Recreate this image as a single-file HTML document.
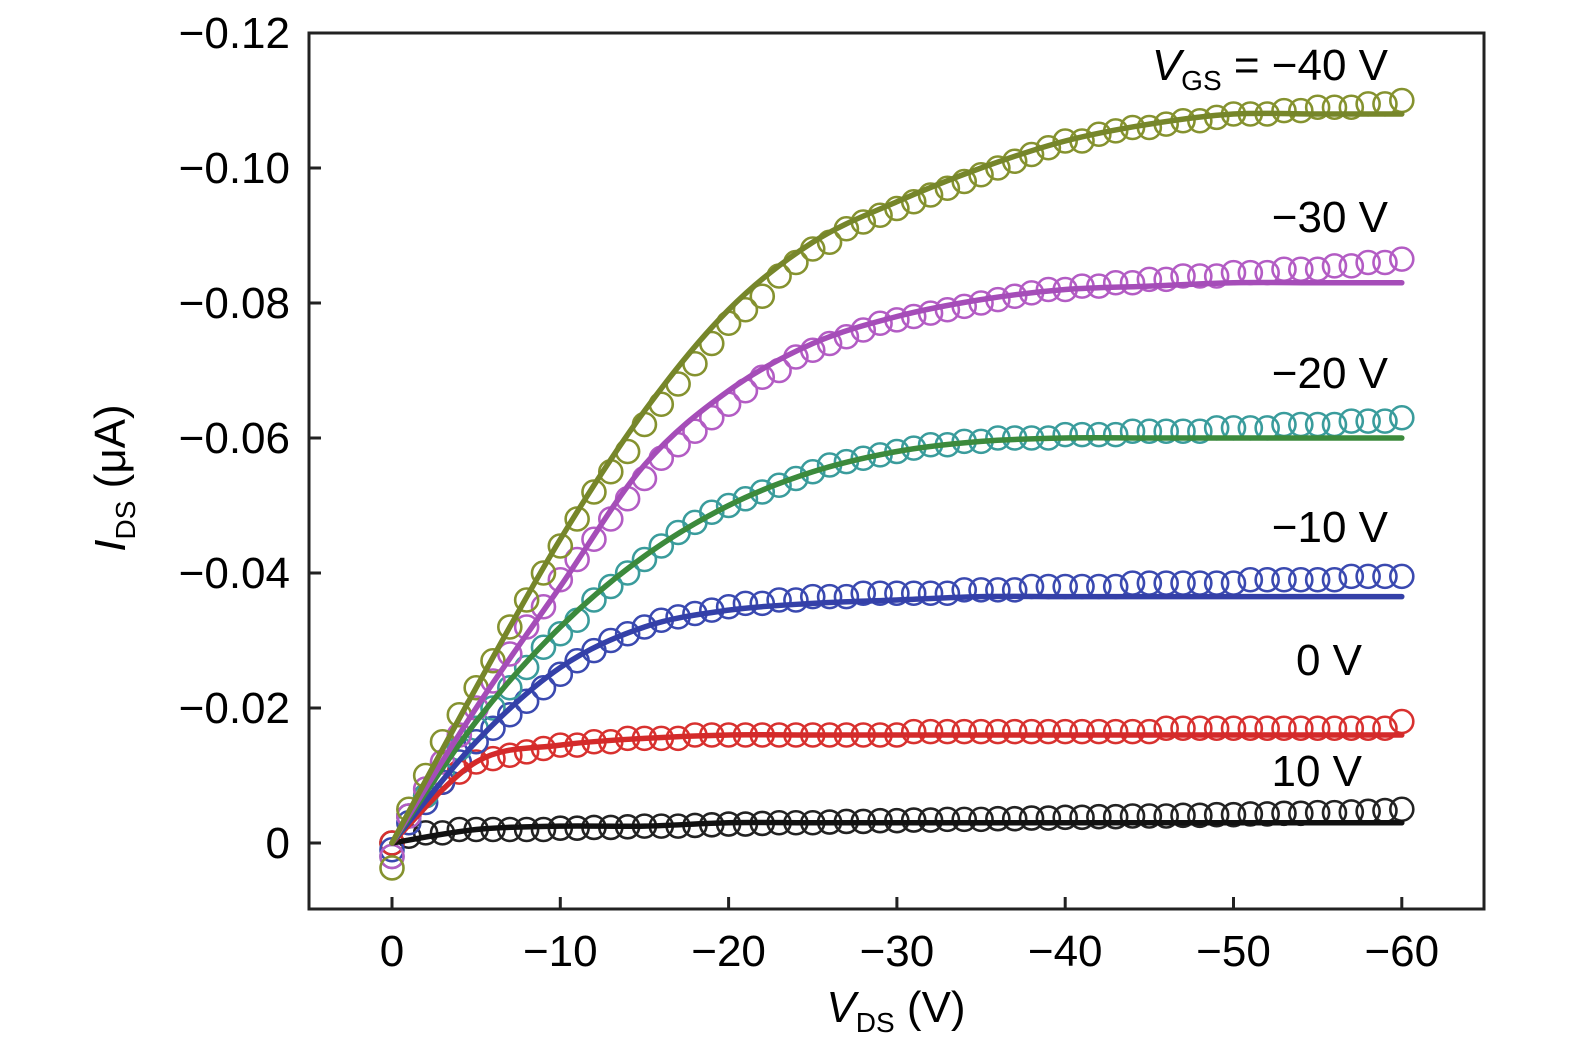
<!DOCTYPE html>
<html><head><meta charset="utf-8"><style>
html,body{margin:0;padding:0;background:#fff;}
svg{display:block;font-family:"Liberation Sans",sans-serif;}
</style></head><body>
<svg id="chart" width="1575" height="1054" viewBox="0 0 1575 1054">
<rect x="309" y="33" width="1175" height="876" fill="none" stroke="#222" stroke-width="3"/>
<g id="ticks"></g>
<g id="series"></g>
<text x="125" y="478" font-size="44" text-anchor="middle" transform="rotate(-90 125 478)"><tspan font-style="italic">I</tspan><tspan font-size="28" dy="10">DS</tspan><tspan dy="-10"> (μA)</tspan></text>
<text x="896" y="1022" font-size="44" text-anchor="middle"><tspan font-style="italic">V</tspan><tspan font-size="28" dy="10">DS</tspan><tspan dy="-10"> (V)</tspan></text>
<text x="1388" y="80" font-size="44" text-anchor="end"><tspan font-style="italic">V</tspan><tspan font-size="28" dy="10">GS</tspan><tspan dy="-10"> = −40 V</tspan></text>
<text x="1388" y="232" font-size="44" text-anchor="end">−30 V</text>
<text x="1388" y="388" font-size="44" text-anchor="end">−20 V</text>
<text x="1388" y="542" font-size="44" text-anchor="end">−10 V</text>
<text x="1362" y="675" font-size="44" text-anchor="end">0 V</text>
<text x="1362" y="786" font-size="44" text-anchor="end">10 V</text>
</svg>
<script>
// values in units of -0.001 μA (magnitude of negative current)
const xTicks=[0,-10,-20,-30,-40,-50,-60];
const yTicks=[0,-0.02,-0.04,-0.06,-0.08,-0.10,-0.12];
const yTickLabels=["0","−0.02","−0.04","−0.06","−0.08","−0.10","−0.12"];
const xTickLabels=["0","−10","−20","−30","−40","−50","−60"];
const markerStep=1; const lineStep=5;
const mOlive=[-3.7,5,10,15,19,23,27,32,36,40,44,48,52,55,58,62,65,68,71,74,77,79,81,84,86,88,89,91,92,93,94,95,96,97,98,99,100,101,102,103,104,104,105,105.5,106,106,106.5,107,107,107.5,108,108,108,108.5,108.5,109,109,109,109.5,109.5,110];
const mMagenta=[-2,4,8,12,16,20,24,28,32,35,39,42,45,48,51,54,57,59,61,63,65,67,69,70,72,73,74,75,76,77,77.5,78,78.5,79,79.5,80,80.5,81,81.5,82,82,82.5,82.5,83,83,83.5,83.5,84,84,84,84.5,84.5,84.5,85,85,85,85.5,85.5,86,86,86.5];
const mTeal=[-2,4,7,10,14,17,20,23,26,29,31,33,36,38,40,42,44,46,47.5,49,50,51,52,53,54,55,56,56.5,57,57.5,58,58.5,59,59,59.5,59.5,60,60,60,60,60.5,60.5,60.5,60.5,61,61,61,61,61,61.5,61.5,61.5,61.5,62,62,62,62,62.5,62.5,62.5,63];
const mBlue=[-1,3,6,9,12,15,17,19,21,23,25,27,28.5,30,31,32,33,33.5,34,34.5,35,35.5,35.5,36,36,36.5,36.5,36.5,37,37,37,37,37,37,37.5,37.5,37.5,37.5,38,38,38,38,38,38,38.5,38.5,38.5,38.5,38.5,38.5,38.5,39,39,39,39,39,39,39.5,39.5,39.5,39.5];
const mRed=[0,4,7,9,10.5,12,12.5,13,13.5,14,14.5,14.5,15,15,15.5,15.5,15.5,15.5,16,16,16,16,16,16,16,16,16,16,16,16,16,16.5,16.5,16.5,16.5,16.5,16.5,16.5,16.5,16.5,16.5,16.5,16.5,16.5,16.5,16.5,17,17,17,17,17,17,17,17,17,17,17,17,17,17,18];
const mBlack=[0,1,1.5,1.5,2,2,2,2,2,2,2.2,2.2,2.3,2.3,2.4,2.5,2.5,2.5,2.6,2.7,2.8,2.8,2.9,3,3,3,3.1,3.2,3.2,3.3,3.3,3.4,3.4,3.5,3.5,3.5,3.6,3.6,3.7,3.7,3.8,3.8,3.9,3.9,4,4,4,4.1,4.1,4.2,4.2,4.3,4.3,4.4,4.4,4.5,4.5,4.6,4.7,4.8,5];
const lOlive=[0,23,45,64,79,89,95,100,104,106.5,108,108,108];
const lMagenta=[0,20,38,56,67,74,78,80.5,82,82.5,83,83,83];
const lGreen=[0,18,32,42.5,50,55,58,59.5,60,60,60,60,60];
const lBlue=[0,15,26,32,34.5,35.5,36,36.5,36.5,36.5,36.5,36.5,36.5];
const lRed=[0,12,14.5,15.5,16,16,16,16,16,16,16,16,16];
const lBlack=[0,2,2.5,2.5,3,3,3,3,3,3,3,3,3];

const NS="http://www.w3.org/2000/svg";
const xS=v=>392+(-v)*16.83;         // V -> px
const yS=v=>843+v*6750;              // μA -> px (negative values go up)
const yM=m=>yS(-m/1000);
function el(t,a,p){const e=document.createElementNS(NS,t);for(const k in a)e.setAttribute(k,a[k]);p.appendChild(e);return e;}
const tg=document.getElementById('ticks');
xTicks.forEach((t,i)=>{
  const l=el('line',{x1:xS(t),x2:xS(t),y1:909,y2:897,stroke:'#222','stroke-width':3},tg);
  
  
  const tx=el('text',{x:xS(t),y:966,'font-size':44,'text-anchor':'middle'},tg);tx.textContent=xTickLabels[i];
  
  
});
yTicks.forEach((t,i)=>{
  const l=el('line',{x1:309,x2:321,y1:yS(t),y2:yS(t),stroke:'#222','stroke-width':3},tg);
  
  
  const tx=el('text',{x:290,y:yS(t)+15,'font-size':44,'text-anchor':'end'},tg);tx.textContent=yTickLabels[i];
  
  
});
const sg=document.getElementById('series');
function curve(arr,color,name){
  const pts=arr.map((m,i)=>[xS(-i*lineStep),yM(m)]);
  let d=`M${pts[0][0]},${pts[0][1]}`;
  for(let i=0;i<pts.length-1;i++){
    const p0=pts[Math.max(0,i-1)],p1=pts[i],p2=pts[i+1],p3=pts[Math.min(pts.length-1,i+2)];
    const c1=[p1[0]+(p2[0]-p0[0])/6,p1[1]+(p2[1]-p0[1])/6],c2=[p2[0]-(p3[0]-p1[0])/6,p2[1]-(p3[1]-p1[1])/6];
    d+=` C${c1[0]},${c1[1]} ${c2[0]},${c2[1]} ${p2[0]},${p2[1]}`;
  }
  const p=el('path',{d:d,fill:'none',stroke:color,'stroke-width':5.5,'stroke-linecap':'round'},sg);
  
  
}
function markers(arr,color,name){
  const g=el('g',{},sg);
  
  
  arr.forEach((m,i)=>{
    const c=el('circle',{cx:xS(-i*markerStep),cy:yM(m),r:11.5,fill:'none',stroke:color,'stroke-width':2.6},g);
    
    
  });
}
markers(mBlack,'#222','markers-vgs-10');
markers(mRed,'#d8312f','markers-vgs-0');
markers(mBlue,'#3a49b0','markers-vgs-minus10');
markers(mTeal,'#3a9c9c','markers-vgs-minus20');
markers(mMagenta,'#b35cc4','markers-vgs-minus30');
markers(mOlive,'#85922f','markers-vgs-minus40');
curve(lBlack,'#111','fit-vgs-10');
curve(lRed,'#d42a2a','fit-vgs-0');
curve(lBlue,'#3440a8','fit-vgs-minus10');
curve(lGreen,'#3c8a3c','fit-vgs-minus20');
curve(lMagenta,'#a54db8','fit-vgs-minus30');
curve(lOlive,'#76862a','fit-vgs-minus40');
</script>
</body></html>
